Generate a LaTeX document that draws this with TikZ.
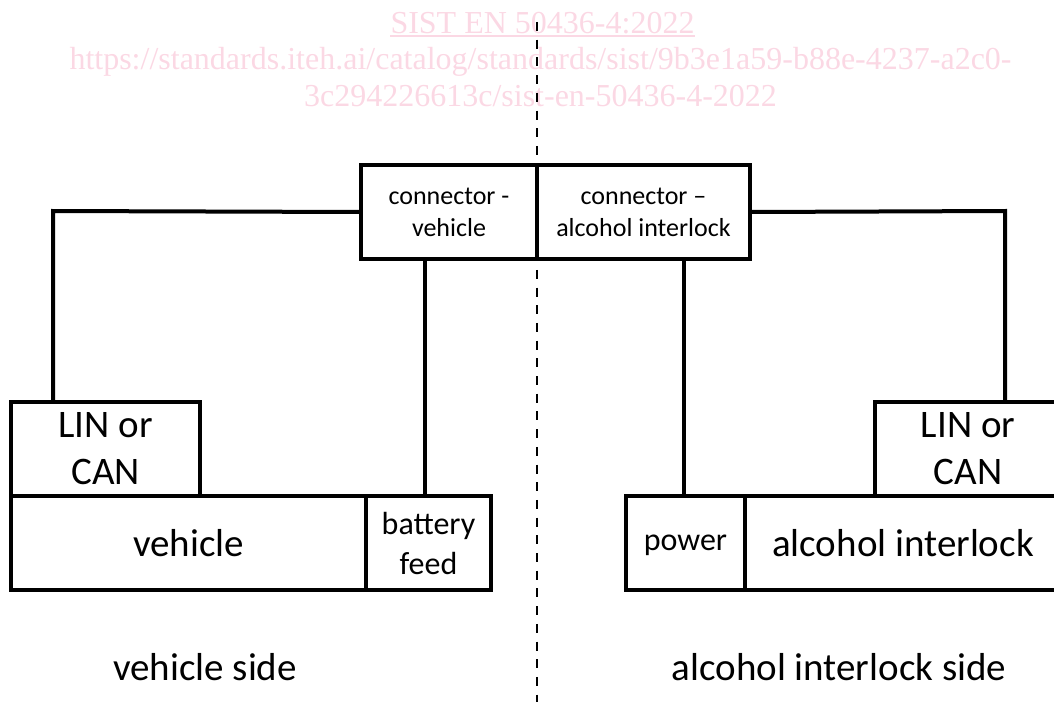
\documentclass[tikz,border=0pt]{standalone}
\usepackage{fontspec}
\setmainfont{Carlito}
\newfontfamily\wmfont{Liberation Serif}
\usetikzlibrary{calc}
\definecolor{wmpink}{RGB}{251,216,228}

\begin{document}
\begin{tikzpicture}[x=1pt,y=-1pt,
  box/.style={draw, line width=3.1pt, inner sep=0pt, minimum height=94pt, align=center},
  big/.style={font=\fontsize{39}{47}\selectfont},
  small/.style={font=\fontsize{32}{40}\selectfont},
  conn/.style={font=\fontsize{26}{32}\selectfont},
  wire/.style={line width=4pt},
  divider/.style={line width=2.8pt, dash pattern=on 9pt off 8.7pt},
  wm/.style={text=wmpink, inner sep=0pt, font=\wmfont\fontsize{32}{36}\selectfont}]
\useasboundingbox (0,0) rectangle (1054,701);

% watermark lines
\node[wm, anchor=base] (wm1) at (542.5,34) {SIST EN 50436-4:2022};
\draw[wmpink, line width=1.6pt] ($(wm1.base west)+(0,2)$) -- ($(wm1.base east)+(0,2)$);
\node[wm, anchor=base] (wm2) at (540.5,70) {https://standards.iteh.ai/catalog/standards/sist/9b3e1a59-b88e-4237-a2c0-};
\node[wm, anchor=base] (wm3) at (540.5,106) {3c294226613c/sist-en-50436-4-2022};

% dashed separation between the two sides
\coordinate (dtop) at (537,22);
\coordinate (dbot) at (537,705);
\draw[divider] (dtop) -- (dbot);

% connectors
\node[box, conn, minimum width=176pt] (cv) at (449,212) {connector -\\vehicle};
\node[box, conn, minimum width=213pt] (ca) at (643.5,212) {connector –\\alcohol interlock};

% vehicle side
\node[box, big, minimum width=189pt] (linL) at (105.5,449) {LIN or\\CAN};
\node[box, big, minimum width=355pt] (veh) at (188.5,543) {vehicle};
\node[box, small, minimum width=125pt] (bat) at (428.5,543) {battery\\feed};

% alcohol interlock side
\node[box, small, minimum width=119pt, text depth=0pt] (pow) at (685.5,543) {power};
\node[box, big, minimum width=316pt] (ai) at (903,543) {alcohol interlock};
\node[box, big, minimum width=186pt] (linR) at (968,449) {LIN or\\CAN};

% wiring
\coordinate (wl) at (53,211);
\coordinate (wb) at (425,0);
\coordinate (wp) at (684,0);
\coordinate (wr) at (1005,211);
\draw[wire] (cv.west) -- (wl) -- (wl |- linL.north);
\draw[wire] (wb |- cv.south) -- (wb |- bat.north);
\draw[wire] (wp |- ca.south) -- (wp |- pow.north);
\draw[wire] (ca.east) -- (wr) -- (wr |- linR.north);

% side labels
\node[big, anchor=base] (vs) at (205,680) {vehicle side};
\node[big, anchor=base] (as) at (839,680) {alcohol interlock side};
\end{tikzpicture}
\end{document}
